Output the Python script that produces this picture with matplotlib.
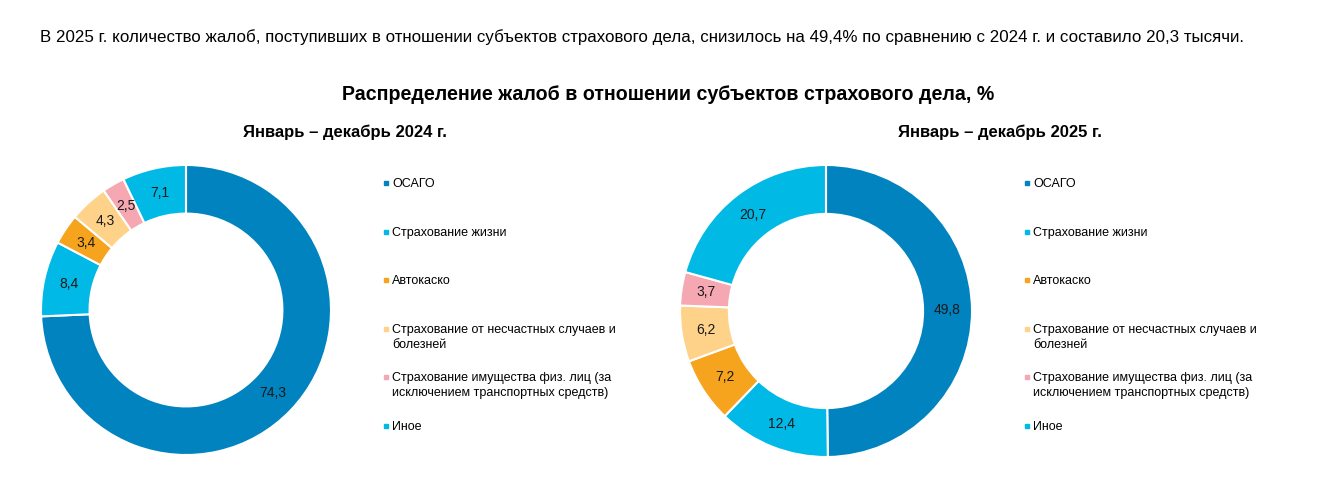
import matplotlib.pyplot as plt
from matplotlib.lines import Line2D
import numpy as np

plt.rcParams['font.family'] = ['Liberation Sans', 'DejaVu Sans']

categories = ['ОСАГО', 'Страхование жизни', 'Автокаско',
              'Страхование от несчастных случаев и\nболезней',
              'Страхование имущества физ. лиц (за\nисключением транспортных средств)',
              'Иное']
values_2024 = [74.3, 8.4, 3.4, 4.3, 2.5, 7.1]
values_2025 = [49.8, 12.4, 7.2, 6.2, 3.7, 20.7]
colors = ['#0083BF', '#00B9E7', '#F6A31E', '#FED289', '#F5A7B2', '#00BAE5']

W, H = 1318, 500
fig = plt.figure(figsize=(W / 100, H / 100), dpi=100)

# overlay axes in pixel coordinates for text
ov = fig.add_axes([0, 0, 1, 1])
ov.set_xlim(0, W)
ov.set_ylim(H, 0)
ov.axis('off')

ov.text(40, 37, 'В 2025 г. количество жалоб, поступивших в отношении субъектов страхового дела, '
        'снизилось на 49,4% по сравнению с 2024 г. и составило 20,3 тысячи.',
        fontsize=12.2, va='center', ha='left')
ov.text(668, 95, 'Распределение жалоб в отношении субъектов страхового дела, %',
        fontsize=14.1, fontweight='bold', ha='center', va='center')


def donut(cx, cy, r, values, subtitle, sub_x, leg_x):
    ax = fig.add_axes([(cx - r) / W, (H - cy - r) / H, 2 * r / W, 2 * r / H])
    wedges, _ = ax.pie(values, colors=colors, startangle=90, counterclock=False,
                       radius=1, wedgeprops=dict(width=0.335, edgecolor='white', linewidth=1.5))
    ax.set_xlim(-1, 1)
    ax.set_ylim(-1, 1)
    ax.set_aspect('equal')
    for w, v in zip(wedges, values):
        ang = np.deg2rad((w.theta1 + w.theta2) / 2)
        ax.text(0.83 * np.cos(ang), 0.83 * np.sin(ang), f'{v:.1f}'.replace('.', ','),
                ha='center', va='center', fontsize=10, color='#1a1a1a')
    ov.text(sub_x, 132, subtitle, fontsize=12, fontweight='bold', ha='center', va='center')
    for i, (lab, c) in enumerate(zip(categories, colors)):
        y = 183 + i * 48.6
        ov.add_line(Line2D([leg_x], [y], marker='s', markersize=2.5, color=c, linestyle='none'))
        ov.text(leg_x + 6, y - 5, lab, fontsize=9, ha='left', va='top', linespacing=1.3)


donut(186, 310, 145, values_2024, 'Январь – декабрь 2024 г.', 345, 386)
donut(826, 311, 146, values_2025, 'Январь – декабрь 2025 г.', 1000, 1027)

fig.savefig('out.png', dpi=100)
